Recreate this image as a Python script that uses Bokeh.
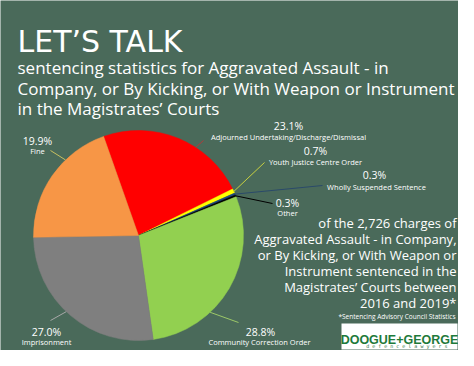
import numpy as np
from bokeh.plotting import figure
from bokeh.models import Range1d, ColumnDataSource
from bokeh.core.properties import value
from bokeh.embed import file_html
from bokeh.resources import INLINE

# ---------------- data ----------------
categories = ["Adjourned Undertaking/Discharge/Dismissal", "Youth Justice Centre Order",
              "Wholly Suspended Sentence", "Other", "Community Correction Order",
              "Imprisonment", "Fine"]
percent = [23.1, 0.7, 0.3, 0.3, 28.8, 27.0, 19.9]
colors = ["#ff0000", "#ffff00", "#1f497d", "#000000", "#92d050", "#7f7f7f", "#f79646"]

title = "LET\u2019S TALK"
subtitle = ["sentencing statistics for Aggravated Assault - in",
            "Company, or By Kicking, or With Weapon or Instrument",
            "in the Magistrates\u2019 Courts"]
note = ["of the 2,726 charges of", "Aggravated Assault - in Company,",
        "or By Kicking, or With Weapon or", "Instrument sentenced in the",
        "Magistrates\u2019 Courts between", "2016 and 2019*"]
source_note = "*Sentencing Advisory Council Statistics"

# ---------------- layout (page pixel coordinates) ----------------
BG = "#4a6a5a"
W, H = 458, 350
def Y(py):
    return H - py

cx, cy, R = 138, 235, 105
theta0 = -19.4  # degrees clockwise from top where first slice starts

p = figure(width=W, height=H, x_range=Range1d(0, W), y_range=Range1d(0, H),
           output_backend="svg", toolbar_location=None, min_border=0,
           x_axis_location=None, y_axis_location=None,
           background_fill_color=BG, border_fill_color=BG, outline_line_color=None)
p.grid.visible = False

total = sum(percent)
cum = np.cumsum([0] + percent)
th_s = theta0 + cum[:-1] / total * 360
th_e = theta0 + cum[1:] / total * 360
src = ColumnDataSource(dict(x=[cx] * len(percent), y=[Y(cy)] * len(percent),
                            start=np.radians(90 - th_e), end=np.radians(90 - th_s),
                            color=colors, cat=categories))
p.wedge(x="x", y="y", radius=R, start_angle="start", end_angle="end",
        fill_color="color", line_color="color", line_width=0.5, source=src)

# leader lines: (angle on arc, end point, colour)
leaders = [
    (33.0, (203, 140), "#b03a3a"),
    (65.2, (264, 162), "#c8d040"),
    (66.8, (322, 185), "#2a4a6a"),
    (67.8, (272, 203), "#000000"),
    (137.0, (238, 322), "#9cc868"),
    (223.5, (50, 320), "#a8a8a8"),
    (316.0, (50, 150), "#c8c060"),
]
for ang, (ex, ey), col in leaders:
    a = np.radians(ang)
    sx, sy = cx + R * np.sin(a), Y(cy) + R * np.cos(a)
    p.segment(x0=[sx], y0=[sy], x1=[ex], y1=[Y(ey)], line_color=col, line_width=1)

# slice labels: (pct pos, name pos)
lab_pos = [((288, 125), (288, 136)),
           ((315, 150), (315, 161)),
           ((374, 174), (376, 186)),
           ((287, 202), (287, 212)),
           ((260, 331), (259, 341)),
           ((46, 331), (46, 341)),
           ((37, 140), (37, 150))]
for (pp, np_), pct, cat in zip(lab_pos, percent, categories):
    p.text(x=[pp[0]], y=[Y(pp[1])], text=[f"{pct:.1f}%"], text_font=value("Open Sans"),
           text_font_size="10.5px", text_color="#ffffff", text_align="center",
           text_baseline="middle")
    p.text(x=[np_[0]], y=[Y(np_[1])], text=[cat], text_font=value("Open Sans"),
           text_font_size="7.5px", text_color="#ffffff", text_align="center",
           text_baseline="middle")

# title + subtitle
p.text(x=[17], y=[Y(41)], text=[title], text_font=value("DejaVu Sans"),
       text_font_size="30px", text_color="#ffffff", text_align="left",
       text_baseline="alphabetic")
for i, line in enumerate(subtitle):
    p.text(x=[17], y=[Y(67 + 20.6 * i)], text=[line], text_font=value("Open Sans"),
           text_font_size="17px", text_color="#ffffff", text_align="left",
           text_baseline="alphabetic")

# right-hand note
for i, line in enumerate(note):
    p.text(x=[456], y=[Y(222 + 16 * i)], text=[line], text_font=value("Open Sans"),
           text_font_size="13px", text_color="#ffffff", text_align="right",
           text_baseline="middle")
p.text(x=[455], y=[Y(316)], text=[source_note], text_font=value("Open Sans"),
       text_font_size="6.5px", text_color="#ffffff", text_align="right",
       text_baseline="middle")

# logo
p.quad(left=[341], right=[457], bottom=[Y(349)], top=[Y(323)],
       fill_color="#ffffff", line_color=None)
p.text(x=[399], y=[Y(339)], text=["DOOGUE+GEORGE"],
       text_font=value("Liberation Sans"), text_font_style="bold",
       text_font_size="12.5px", text_color="#1e7a3a", text_align="center",
       text_baseline="alphabetic")
p.text(x=[453], y=[Y(345)], text=["d e f e n c e   l a w y e r s"],
       text_font=value("DejaVu Sans Mono"), text_font_size="5px",
       text_color="#3a7a4a", text_align="right", text_baseline="middle")

open("out.html", "w").write(file_html(p, INLINE))
